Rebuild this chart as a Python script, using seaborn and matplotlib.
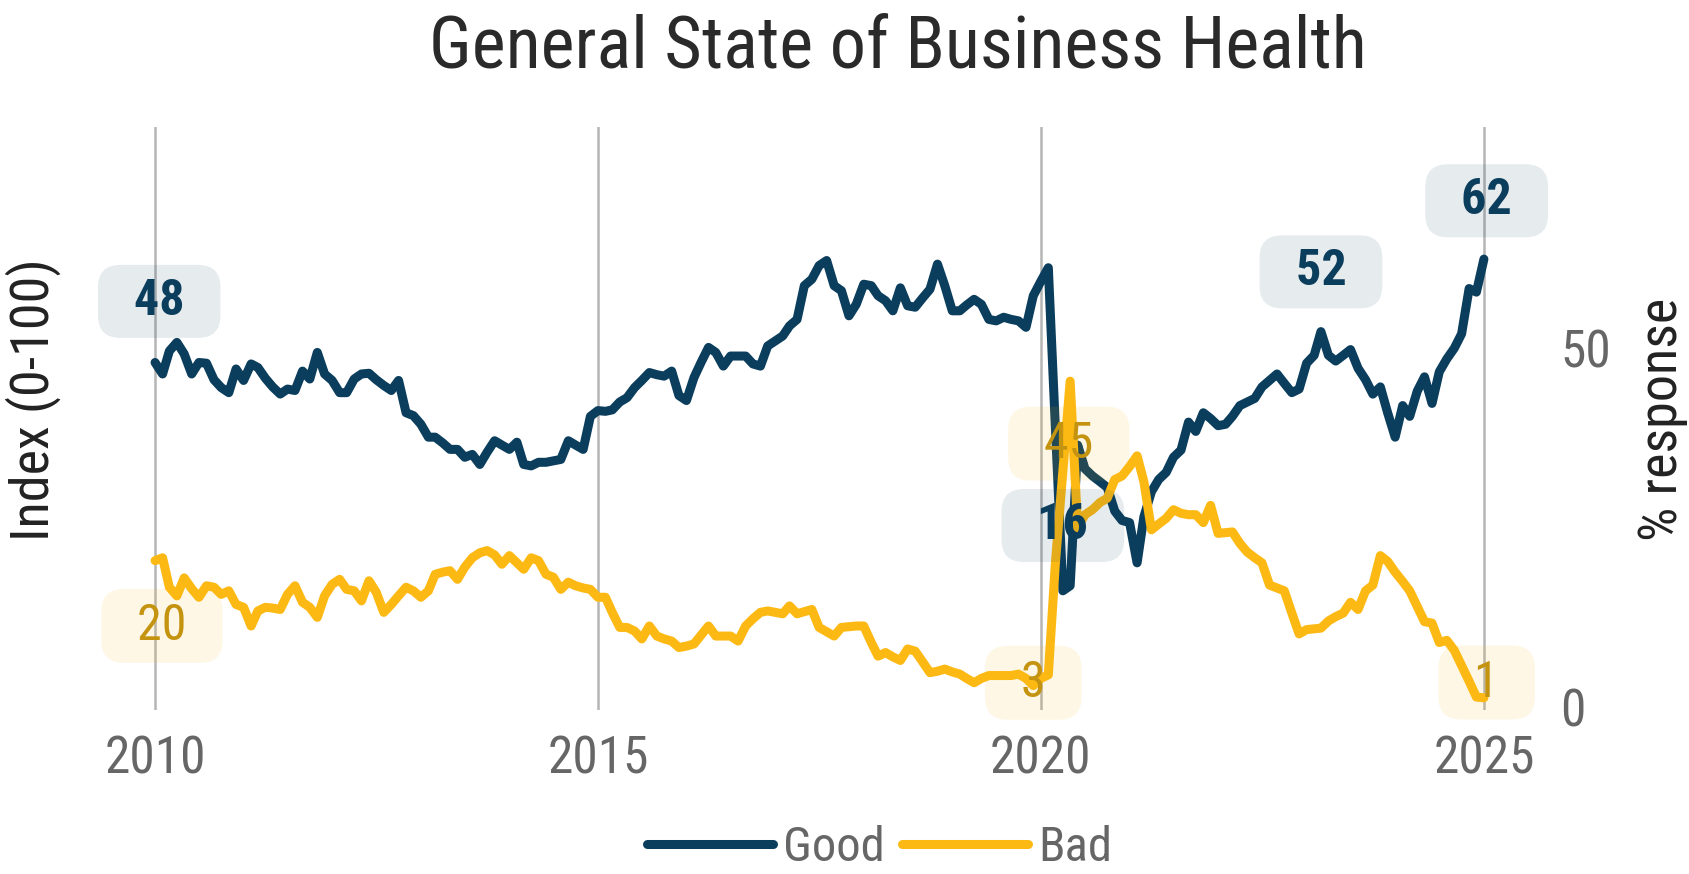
import numpy as np
import pandas as pd
import matplotlib
matplotlib.use('Agg')
import matplotlib.pyplot as plt
import matplotlib.colors as mcolors
import seaborn as sns

# monthly readings, Jan 2010 .. Jan 2025
good = [48.0, 46.4, 49.6, 50.8, 49.2, 46.4, 48.0, 47.9, 45.6, 44.5,
        43.8, 47.1, 45.5, 47.8, 47.3, 45.8, 44.6, 43.6, 44.3, 44.1,
        46.8, 45.7, 49.4, 46.4, 45.5, 43.8, 43.8, 45.7, 46.4, 46.5,
        45.6, 44.8, 44.1, 45.5, 41.0, 40.6, 39.4, 37.6, 37.6, 36.8,
        35.9, 35.9, 34.8, 35.2, 33.8, 35.5, 37.1, 36.5, 35.9, 36.9,
        33.8, 33.6, 34.1, 34.1, 34.3, 34.5, 37.1, 36.5, 35.9, 40.5,
        41.3, 41.2, 41.4, 42.5, 43.1, 44.5, 45.5, 46.6, 46.3, 46.1,
        46.8, 43.4, 42.7, 45.9, 48.0, 50.1, 49.4, 47.5, 48.9, 48.9,
        48.9, 47.8, 47.5, 50.3, 51.0, 51.7, 53.1, 54.0, 58.7, 59.6,
        61.5, 62.2, 58.7, 58.0, 54.5, 56.1, 58.9, 58.7, 57.3, 56.6,
        55.2, 58.4, 55.9, 55.7, 57.0, 58.2, 61.7, 58.7, 55.2, 55.2,
        56.0, 56.8, 56.1, 54.0, 53.8, 54.3, 54.0, 53.8, 52.9, 57.3,
        59.3, 61.2, 39.0, 16.2, 16.9, 36.5, 33.2, 32.2, 31.4, 30.6,
        27.3, 26.0, 25.7, 20.1, 26.5, 30.0, 31.7, 32.7, 34.8, 35.8,
        39.7, 38.4, 41.0, 40.2, 39.2, 39.4, 40.5, 42.0, 42.5, 43.0,
        44.6, 45.5, 46.4, 45.1, 43.8, 44.3, 47.9, 49.0, 52.3, 49.0,
        48.2, 49.0, 49.8, 47.2, 45.6, 43.6, 44.6, 41.0, 37.6, 42.0,
        40.5, 44.0, 46.0, 42.3, 46.7, 48.5, 50.0, 52.0, 58.3, 57.8,
        62.4]

bad = [20.4, 20.8, 16.7, 15.5, 18.0, 16.5, 15.3, 16.9, 16.7, 15.7,
       16.2, 14.3, 13.9, 11.3, 13.4, 13.9, 13.8, 13.6, 15.7, 16.9,
       14.6, 13.9, 12.5, 15.5, 17.1, 17.8, 16.4, 16.2, 14.8, 17.6,
       16.0, 13.2, 14.3, 15.5, 16.7, 16.2, 15.3, 16.2, 18.5, 18.8,
       19.0, 17.8, 19.5, 20.8, 21.5, 21.8, 21.2, 19.9, 21.1, 20.1,
       19.2, 20.8, 20.4, 18.5, 18.1, 16.4, 17.4, 16.9, 16.6, 16.4,
       15.3, 15.3, 13.2, 11.1, 11.1, 10.6, 9.5, 11.3, 9.9, 9.5,
       9.2, 8.3, 8.5, 8.8, 10.0, 11.3, 9.9, 9.9, 9.9, 9.2,
       11.3, 12.3, 13.2, 13.4, 13.2, 13.0, 14.1, 13.0, 13.3, 13.6,
       11.1, 10.5, 9.9, 11.1, 11.2, 11.3, 11.3, 9.0, 7.1, 7.6,
       7.0, 6.5, 8.1, 7.8, 6.3, 4.8, 5.0, 5.3, 4.9, 4.6,
       4.0, 3.4, 4.0, 4.4, 4.4, 4.4, 4.4, 4.6, 4.0, 3.0,
       4.0, 4.5, 20.0, 33.0, 45.4, 25.0, 26.8, 27.5, 28.5, 29.1,
       31.7, 32.2, 33.5, 35.0, 31.4, 24.7, 25.5, 26.3, 27.5, 27.0,
       26.8, 26.8, 25.7, 28.1, 24.2, 24.3, 24.4, 22.8, 21.6, 20.8,
       20.1, 17.0, 16.6, 16.2, 13.1, 10.2, 10.8, 10.9, 11.0, 12.0,
       12.6, 13.1, 14.6, 13.6, 16.2, 17.0, 21.1, 20.3, 18.8, 17.5,
       16.2, 14.0, 11.9, 11.7, 9.0, 9.3, 7.9, 5.8, 3.6, 1.4,
       1.3]

series_names = ['Good', 'Bad']
good_label_idx = [0, 123, 158, 180]
bad_label_idx = [0, 119, 124, 180]
year_ticks = [2010, 2015, 2020, 2025]
right_ticks = [0, 50]

navy = '#0b3d5c'
gold = '#fdb913'
gold_text = '#c4930f'
grey_text = '#666666'

months = pd.date_range('2010-01-01', periods=len(good), freq='MS')
df = pd.DataFrame({
    'date': list(months) * 2,
    'value': good + bad,
    'series': ['Good'] * len(good) + ['Bad'] * len(bad),
})

sns.set_theme(style='white')
# narrow face if the system has one, otherwise plain DejaVu
plt.rcParams['font.family'] = ['Roboto Condensed', 'DejaVu Sans']
plt.rcParams['font.stretch'] = 'condensed'

W, H = 1690, 874
fig = plt.figure(figsize=(W / 100, H / 100), dpi=100)
ax = fig.add_axes([100 / W, 1 - 710 / H, 1430 / W, 583 / H])

sns.lineplot(data=df, x='date', y='value', hue='series', hue_order=series_names,
             palette={'Good': navy, 'Bad': gold}, estimator=None, linewidth=6.5,
             solid_joinstyle='round', solid_capstyle='round', ax=ax)

ax.set_xlim(pd.Timestamp('2009-05-19'), pd.Timestamp('2025-07-10'))
ax.set_ylim(-0.4, 80.8)
ax.set_xticks([pd.Timestamp(f'{y}-01-01') for y in year_ticks])
ax.set_xticklabels([str(y) for y in year_ticks])
ax.yaxis.tick_right()
ax.set_yticks(right_ticks)
ax.tick_params(axis='x', length=0, pad=18, labelsize=37, labelcolor=grey_text)
ax.tick_params(axis='y', length=0, pad=22, labelsize=37, labelcolor=grey_text)
ax.xaxis.grid(True, color='#b5b5b5', linewidth=1.8)
ax.yaxis.grid(False)
ax.set_xlabel('')
ax.set_ylabel('')
sns.despine(ax=ax, left=True, bottom=True)

# value call-outs
good_offsets = [(3, 44), (0, 47), (0, 43), (2, 42)]
bad_offsets = [(5, -47), (0, 2), (-1, -45), (2, 11)]
box_style = 'round,pad=0.26,rounding_size=0.45'
for i, off in zip(good_label_idx, good_offsets):
    ax.annotate(f'  {good[i]:.0f}  ', xy=(months[i], good[i]), xytext=off,
                textcoords='offset points', ha='center', va='center',
                fontsize=36, fontweight='bold', color=navy, zorder=6,
                annotation_clip=False,
                bbox=dict(boxstyle=box_style,
                          fc=mcolors.to_rgba(navy, 0.1), ec='none'))
for i, off in zip(bad_label_idx, bad_offsets):
    ax.annotate(f'  {bad[i]:.0f}  ', xy=(months[i], bad[i]), xytext=off,
                textcoords='offset points', ha='center', va='center',
                fontsize=36, color=gold_text, zorder=6,
                annotation_clip=False,
                bbox=dict(boxstyle=box_style,
                          fc=mcolors.to_rgba(gold, 0.1), ec='none'))

# legend along the bottom
sns.move_legend(ax, 'center', bbox_to_anchor=(0.545, -0.236), ncol=2, title=None,
                frameon=False, fontsize=35, handlelength=2.6, handletextpad=0.2,
                columnspacing=0.35)
leg = ax.get_legend()
for line in leg.get_lines():
    line.set_linewidth(6.5)
    line.set_solid_capstyle('round')
for t in leg.get_texts():
    t.set_color(grey_text)

fig.text(0.531, 1 - 67 / H, 'General State of Business Health', ha='center',
         va='baseline', fontsize=52, color='#2a2a2a')
fig.text(33 / W, 1 - 400 / H, 'Index (0-100)', rotation=90, ha='center',
         va='center', fontsize=39, color='#222222')
fig.text(1663 / W, 1 - 419 / H, '% response', rotation=90, ha='center',
         va='center', fontsize=39, color='#222222')

fig.savefig('out.png', dpi=100)
